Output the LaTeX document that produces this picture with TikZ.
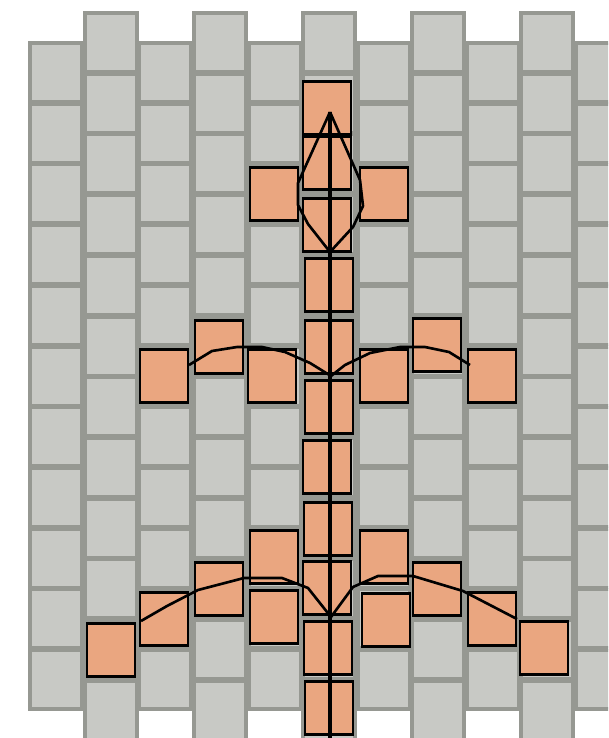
\documentclass[tikz,border=0pt]{standalone}
\usepackage{xcolor}
\definecolor{brickgrey}{RGB}{200,201,197}
\definecolor{mortargrey}{RGB}{150,152,146}
\definecolor{paintorange}{RGB}{234,166,128}
\begin{document}
\begin{tikzpicture}[x=0.2mm, y=-0.2mm,
    brick/.style={rectangle, draw=mortargrey, line width=2pt, fill=brickgrey,
        minimum width=10.5mm, minimum height=11.7mm, inner sep=0pt},
    cell/.style={rectangle, draw=black, line width=1.6pt, fill=paintorange,
        minimum width=9.6mm, minimum height=10.6mm, inner sep=0pt},
    vein/.style={draw=black, line width=1.5pt, line join=round},
    spine/.style={draw=black, line width=2pt}
]
    \useasboundingbox (0,0) rectangle (608,738);
    \clip (0,0) rectangle (608,738);

    % wall
    \foreach \cx in {56,165,275,384,493,602}
        \foreach \row in {0,...,10}
            \node[brick] (b\cx-\row) at (\cx,{72.5+60.7*\row}) {};
    \foreach \cx in {111,220,329,438,547}
        \foreach \row in {0,...,11}
            \node[brick] (b\cx-\row) at (\cx,{42.5+60.7*\row}) {};

    % centre column
    \node[cell] (c1) at (327,108) {};
    \node[cell] (c2) at (327,163) {};
    \node[cell] (c3) at (327,225) {};
    \node[cell] (c4) at (329,285) {};
    \node[cell] (c5) at (329,347) {};
    \node[cell] (c6) at (329,407) {};
    \node[cell] (c7) at (327,467) {};
    \node[cell] (c8) at (328,529) {};
    \node[cell] (c9) at (327,588) {};
    \node[cell] (c10) at (328,648) {};
    \node[cell] (c11) at (329,708) {};

    % top pair
    \node[cell] (tl) at (274,194) {};
    \node[cell] (tr) at (384,194) {};

    % middle row
    \node[cell] (ml3) at (164,376) {};
    \node[cell] (ml2) at (219,347) {};
    \node[cell] (ml1) at (272,376) {};
    \node[cell] (mr1) at (384,376) {};
    \node[cell] (mr2) at (437,345) {};
    \node[cell] (mr3) at (492,376) {};

    % lower row
    \node[cell] (ll5) at (111,650) {};
    \node[cell] (ll4) at (164,619) {};
    \node[cell] (ll3) at (219,589) {};
    \node[cell] (ll2) at (274,557) {};
    \node[cell] (ll1) at (274,617) {};
    \node[cell] (lr1) at (384,557) {};
    \node[cell] (lr2) at (386,620) {};
    \node[cell] (lr3) at (437,589) {};
    \node[cell] (lr4) at (492,619) {};
    \node[cell] (lr5) at (544,648) {};

    \coordinate (tip) at (330,112);
    \coordinate (foot) at (330,738);
    \coordinate (kitebase) at (330,252);
    \coordinate (hubm) at (331,376);
    \coordinate (hubl) at (331,617);
    \coordinate (endml) at (189,365);
    \coordinate (endmr) at (470,365);
    \coordinate (endll) at (141,621);
    \coordinate (endlr) at (517,619);

    \draw[spine] (tip) -- (foot);
    \draw[vein] (tip) -- (298,183) -- (298,205) -- (308,224) -- (kitebase);
    \draw[vein] (tip) -- (360,180) -- (363,206) -- (353,227) -- (kitebase);
    \draw[vein] (endml) -- (212,351) -- (237,347) -- (262,347) -- (285,352) -- (310,363) -- (hubm);
    \draw[vein] (hubm) -- (345,365) -- (370,353) -- (400,347) -- (425,347) -- (449,352) -- (endmr);
    \draw[vein] (endll) -- (167,606) -- (198,590) -- (244,578) -- (282,578) -- (308,588) -- (hubl);
    \draw[vein] (hubl) -- (353,587) -- (378,576) -- (413,576) -- (463,591) -- (endlr);
\end{tikzpicture}
\end{document}
